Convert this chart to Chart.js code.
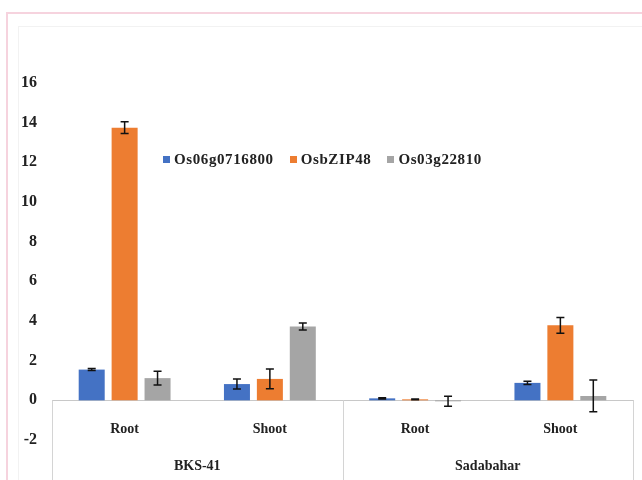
<!DOCTYPE html>
<html>
<head>
<meta charset="utf-8">
<script src="https://cdn.jsdelivr.net/npm/chart.js@4"></script>
<style>
	html, body { margin: 0; padding: 0; background: #fff; }
	#wrap { position: relative; width: 642px; height: 480px; overflow: hidden; }
	#frame {
		position: absolute; left: 6px; top: 12px; width: 660px; height: 500px;
		border-left: 2px solid #f6d3de; border-top: 2px solid #f6d3de;
	}
	#inner {
		position: absolute; left: 18px; top: 26px; width: 660px; height: 500px;
		border-left: 1px solid #f2f2f2; border-top: 1px solid #f2f2f2;
	}
	canvas { position: absolute; left: 0; top: 0; }
	#legenda {
		position: absolute; left: 163px; top: 151px;
		font: bold 15px "Liberation Serif", serif; color: #222; white-space: nowrap;
		letter-spacing: 0.6px;
	}
	#legenda span.item { margin-right: 16px; }
	#legenda span.cor { display: inline-block; width: 7px; height: 7px; margin-right: 4px; vertical-align: 1px; }
</style>
</head>
<body>
<div id="wrap">
	<div id="frame"></div>
	<div id="inner"></div>
	<canvas id="expressao" width="642" height="480"></canvas>
	<div id="legenda"></div>
</div>
<script>
(() => {

	const tecidos = ["Root", "Shoot", "Root", "Shoot"];
	const variedades = ["BKS-41", "Sadabahar"];
	const genes = ["Os06g0716800", "OsbZIP48", "Os03g22810"];
	const cores = ["#4472C4", "#ED7D31", "#A5A5A5"];

	const os06g0716800 = [1.55, 0.82, 0.10, 0.88];
	const osbZIP48 = [13.75, 1.08, 0.05, 3.78];
	const os03g22810 = [1.12, 3.72, -0.05, 0.22];

	const erroOs06g0716800 = [0.05, 0.25, 0.03, 0.08];
	const erroOsbZIP48 = [0.3, 0.5, 0.02, 0.4];
	const erroOs03g22810 = [0.35, 0.18, 0.25, 0.8];

	const yTicks = [-2, 0, 2, 4, 6, 8, 10, 12, 14, 16];

	const fonte = (size) => ({ family: "'Liberation Serif', serif", size: size, weight: 'bold' });

	const valores = [os06g0716800, osbZIP48, os03g22810];
	const erros = [erroOs06g0716800, erroOsbZIP48, erroOs03g22810];

	// barras de erro desenhadas sobre cada barra
	const barrasErro = {
		id: 'barrasErro',
		afterDatasetsDraw(chart) {
			const ctx = chart.ctx;
			const y = chart.scales.y;
			ctx.save();
			ctx.strokeStyle = '#111';
			ctx.lineWidth = 1.5;
			chart.data.datasets.forEach((ds, i) => {
				chart.getDatasetMeta(i).data.forEach((bar, j) => {
					const v = ds.data[j];
					const e = ds.erro[j];
					const topo = y.getPixelForValue(v + e);
					const base = y.getPixelForValue(v - e);
					ctx.beginPath();
					ctx.moveTo(bar.x, topo);
					ctx.lineTo(bar.x, base);
					ctx.moveTo(bar.x - 4, topo);
					ctx.lineTo(bar.x + 4, topo);
					ctx.moveTo(bar.x - 4, base);
					ctx.lineTo(bar.x + 4, base);
					ctx.stroke();
				});
			});
			ctx.restore();
		}
	};

	// linhas da tabela abaixo do eixo zero
	const tabela = {
		id: 'tabela',
		afterDraw(chart) {
			const ctx = chart.ctx;
			const x = chart.scales.x;
			const zero = chart.scales.y.getPixelForValue(0);
			const meio = (x.getPixelForValue(1) + x.getPixelForValue(2)) / 2;
			ctx.save();
			ctx.strokeStyle = '#d4d4d4';
			ctx.lineWidth = 1;
			[x.left, meio, x.right].forEach(px => {
				ctx.beginPath();
				ctx.moveTo(Math.round(px) + 0.5, zero);
				ctx.lineTo(Math.round(px) + 0.5, chart.height);
				ctx.stroke();
			});
			ctx.restore();
		}
	};

	const montaLegenda = () => {
		const el = document.getElementById('legenda');
		el.innerHTML = genes.map((g, i) =>
			'<span class="item"><span class="cor" style="background:' + cores[i] + '"></span>' + g + '</span>'
		).join('');
	};

	const chartExpressao = () => {
		new Chart("expressao", {
			type: 'bar',
			data: {
				labels: tecidos,
				datasets: genes.map((g, i) => ({
					label: g,
					data: valores[i],
					erro: erros[i],
					backgroundColor: cores[i],
					categoryPercentage: 0.68,
					barPercentage: 0.79
				}))
			},
			options: {
				responsive: false,
				animation: false,
				layout: { padding: { left: 0, right: 9, top: 83, bottom: 40 } },
				plugins: { legend: { display: false }, tooltip: { enabled: false } },
				scales: {
					x: {
						position: { y: 0 },
						grid: { display: false },
						border: { display: true, color: '#c8c8c8' },
						ticks: { color: '#222', font: fonte(14), padding: 13 }
					},
					x2: {
						type: 'category',
						labels: variedades,
						position: { y: 0 },
						offset: true,
						grid: { display: false },
						border: { display: false },
						ticks: { color: '#222', font: fonte(14), padding: 50 }
					},
					y: {
						min: -2,
						max: 16,
						afterFit: (scale) => { scale.width = 52; },
						afterBuildTicks: (scale) => { scale.ticks = yTicks.map(v => ({ value: v })); },
						grid: { display: false, drawTicks: false },
						border: { display: false },
						ticks: { color: '#222', font: fonte(16), padding: 15 }
					}
				}
			},
			plugins: [barrasErro, tabela]
		});
	};

	montaLegenda();
	chartExpressao();
})();
</script>
</body>
</html>
